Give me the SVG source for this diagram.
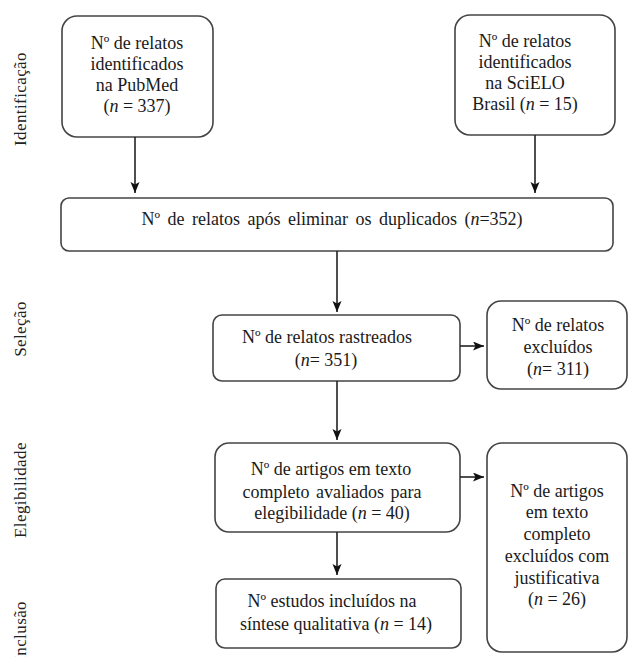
<svg xmlns="http://www.w3.org/2000/svg" width="628" height="657" viewBox="0 0 628 657">
<style>
.box{fill:#fff;stroke:#444;stroke-width:1.6}
.t{font-family:"Liberation Serif","Times New Roman",serif;font-size:18px;fill:#1a1a1a;text-anchor:middle}
.lab{font-family:"Liberation Serif","Times New Roman",serif;font-size:17px;fill:#222;text-anchor:middle;letter-spacing:0.4px}
.c{stroke:#222;stroke-width:1.6;fill:none}
.i{font-style:italic}
</style>
<defs>
<marker id="ah" markerUnits="userSpaceOnUse" markerWidth="12" markerHeight="10" refX="11" refY="4.5" orient="auto">
<path d="M0,0 L11,4.5 L0,9 L2.5,4.5 z" fill="#111"/>
</marker>
</defs>
<rect width="628" height="657" fill="#fff"/>
<g id="labels">
<text class="lab" transform="translate(26,99) rotate(-90)">Identificação</text>
<text class="lab" transform="translate(26,329) rotate(-90)">Seleção</text>
<text class="lab" transform="translate(26,490) rotate(-90)">Elegibilidade</text>
<text class="lab" transform="translate(26,601) rotate(-90)" style="text-anchor:end">Inclusão</text>
</g>
<g id="pubmed">
<rect class="box" x="62" y="16" width="151" height="121" rx="15"/>
<text class="t" x="137" y="49">Nº de relatos</text>
<text class="t" x="137" y="70">identificados</text>
<text class="t" x="137" y="91">na PubMed</text>
<text class="t" x="137" y="112">(<tspan class="i">n</tspan> = 337)</text>
</g>
<g id="scielo">
<rect class="box" x="455" y="15" width="160" height="120" rx="15"/>
<text class="t" x="525" y="47">Nº de relatos</text>
<text class="t" x="525" y="68">identificados</text>
<text class="t" x="525" y="89">na SciELO</text>
<text class="t" x="525" y="110">Brasil (<tspan class="i">n</tspan> = 15)</text>
</g>
<g id="duplicados">
<rect class="box" x="61" y="198" width="552" height="53" rx="8"/>
<text class="t" x="332" y="225" style="word-spacing:3px">Nº de relatos após eliminar os duplicados (<tspan class="i">n</tspan>=352)</text>
</g>
<g id="rastreados">
<rect class="box" x="213" y="315" width="247" height="66" rx="9"/>
<text class="t" x="327" y="343">Nº de relatos rastreados</text>
<text class="t" x="326" y="366">(<tspan class="i">n</tspan>= 351)</text>
</g>
<g id="excluidos">
<rect class="box" x="487" y="301" width="140" height="88" rx="14"/>
<text class="t" x="558" y="331">Nº de relatos</text>
<text class="t" x="558" y="353">excluídos</text>
<text class="t" x="558" y="375">(<tspan class="i">n</tspan>= 311)</text>
</g>
<g id="elegibilidade">
<rect class="box" x="215" y="443" width="245" height="89" rx="14"/>
<text class="t" x="331" y="475">Nº de artigos em texto</text>
<text class="t" x="332" y="498" style="word-spacing:2px">completo avaliados para</text>
<text class="t" x="332" y="519">elegibilidade (<tspan class="i">n</tspan> = 40)</text>
</g>
<g id="excluidos2">
<rect class="box" x="487" y="443" width="140" height="209" rx="15"/>
<text class="t" x="557" y="497">Nº de artigos</text>
<text class="t" x="557" y="518">em texto</text>
<text class="t" x="557" y="540">completo</text>
<text class="t" x="557" y="562">excluídos com</text>
<text class="t" x="557" y="584">justificativa</text>
<text class="t" x="557" y="605">(<tspan class="i">n</tspan> = 26)</text>
</g>
<g id="inclusao">
<rect class="box" x="216" y="579" width="245" height="69" rx="9"/>
<text class="t" x="332" y="607">Nº estudos incluídos na</text>
<text class="t" x="336" y="630">síntese qualitativa (<tspan class="i">n</tspan> = 14)</text>
</g>
<g id="connectors">
<line class="c" x1="135" y1="137" x2="135" y2="193" marker-end="url(#ah)"/>
<line class="c" x1="535" y1="135" x2="535" y2="193" marker-end="url(#ah)"/>
<line class="c" x1="337" y1="251" x2="337" y2="312" marker-end="url(#ah)"/>
<line class="c" x1="460" y1="346" x2="484" y2="346" marker-end="url(#ah)"/>
<line class="c" x1="337" y1="381" x2="337" y2="440" marker-end="url(#ah)"/>
<line class="c" x1="460" y1="477" x2="484" y2="477" marker-end="url(#ah)"/>
<line class="c" x1="337" y1="532" x2="337" y2="575" marker-end="url(#ah)"/>
</g>
</svg>
